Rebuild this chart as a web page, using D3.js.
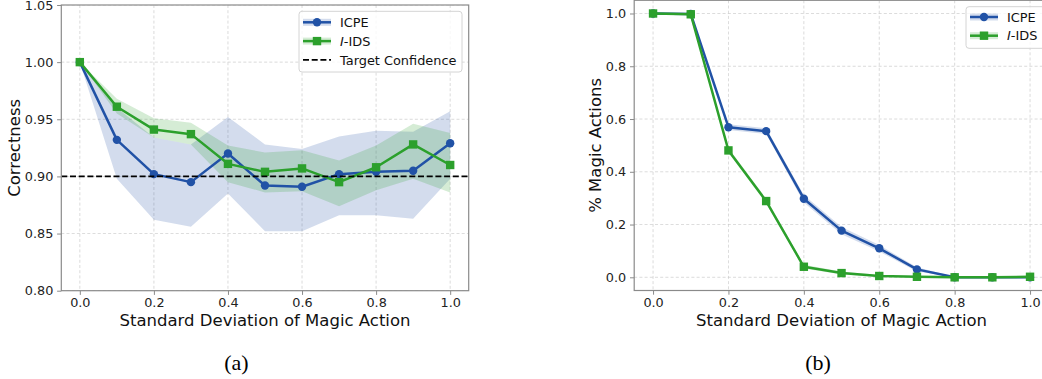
<!DOCTYPE html>
<html>
<head>
<meta charset="utf-8">
<script src="https://cdn.jsdelivr.net/npm/d3@7"></script>
<style>
  html, body { margin: 0; padding: 0; background: #fff; }
  svg { display: block; font-family: "DejaVu Sans", sans-serif; }
</style>
</head>
<body>
<svg id="fig" width="1042" height="379"></svg>
<script>
// Standard deviation of the magic action (shared x values)
const sigma = [0.0, 0.1, 0.2, 0.3, 0.4, 0.5, 0.6, 0.7, 0.8, 0.9, 1.0];

// (a) correctness: mean and shaded band per method
const icpeCorrect     = [1.000, 0.932, 0.902, 0.895, 0.920, 0.892, 0.891, 0.902, 0.904, 0.905, 0.929];
const icpeCorrectLo   = [1.000, 0.898, 0.862, 0.856, 0.885, 0.852, 0.852, 0.866, 0.866, 0.863, 0.898];
const icpeCorrectHi   = [1.000, 0.960, 0.934, 0.928, 0.952, 0.928, 0.924, 0.935, 0.940, 0.939, 0.957];
const iidsCorrect     = [1.000, 0.961, 0.941, 0.937, 0.911, 0.904, 0.907, 0.895, 0.908, 0.928, 0.910];
const iidsCorrectLo   = [1.000, 0.955, 0.934, 0.928, 0.895, 0.886, 0.887, 0.874, 0.888, 0.898, 0.886];
const iidsCorrectHi   = [1.000, 0.968, 0.951, 0.947, 0.927, 0.921, 0.923, 0.914, 0.927, 0.946, 0.938];
const targetConfidence = 0.9;

// (b) fraction of magic actions: mean and shaded band per method
const icpeMagic   = [1.000, 0.998, 0.569, 0.554, 0.298, 0.177, 0.110, 0.030, 0.000, 0.000, 0.000];
const icpeMagicLo = [1.000, 0.995, 0.558, 0.543, 0.284, 0.163, 0.098, 0.022, 0.000, 0.000, 0.000];
const icpeMagicHi = [1.000, 1.000, 0.580, 0.565, 0.312, 0.191, 0.122, 0.038, 0.002, 0.002, 0.002];
const iidsMagic   = [1.000, 0.997, 0.481, 0.289, 0.040, 0.016, 0.005, 0.002, 0.000, 0.000, 0.002];
const iidsMagicLo = [1.000, 0.994, 0.472, 0.280, 0.033, 0.011, 0.002, 0.000, 0.000, 0.000, 0.000];
const iidsMagicHi = [1.000, 1.000, 0.490, 0.298, 0.048, 0.022, 0.009, 0.005, 0.002, 0.002, 0.005];

// Tick labels
const xTicks = [0.0, 0.2, 0.4, 0.6, 0.8, 1.0];
const yTicksA = [0.80, 0.85, 0.90, 0.95, 1.00, 1.05];
const yTicksB = [0.0, 0.2, 0.4, 0.6, 0.8, 1.0];

const BLUE = "#2152a6";
const GREEN = "#2ca02c";
const SPINE = "#8a8a8a";
const TICK_FONT = "12.8px";
const LABEL_FONT = "16.5px";
const LEGEND_FONT = "12.9px";

const svg = d3.select("#fig");
svg.append("rect").attr("width", 1042).attr("height", 379).attr("fill", "#fff");

function panel(cfg) {
  const x = d3.scaleLinear().domain([-0.05, 1.05]).range([cfg.left, cfg.right]);
  const y = d3.scaleLinear().domain(cfg.yDomain).range([cfg.bottom, cfg.top]);
  const g = svg.append("g");

  const clipId = "clip-" + cfg.id;
  svg.append("clipPath").attr("id", clipId)
    .append("rect").attr("x", cfg.left).attr("y", cfg.top)
    .attr("width", cfg.right - cfg.left).attr("height", cfg.bottom - cfg.top);

  const plot = g.append("g").attr("clip-path", `url(#${clipId})`);

  // grid
  plot.append("g").selectAll("line").data(xTicks).join("line")
    .attr("x1", d => x(d)).attr("x2", d => x(d))
    .attr("y1", cfg.top).attr("y2", cfg.bottom)
    .attr("stroke", "#c8c8c8").attr("stroke-width", 0.8)
    .attr("stroke-dasharray", "3,2.2").attr("opacity", 0.8);
  plot.append("g").selectAll("line").data(cfg.yTicks).join("line")
    .attr("x1", cfg.left).attr("x2", cfg.right)
    .attr("y1", d => y(d)).attr("y2", d => y(d))
    .attr("stroke", "#c8c8c8").attr("stroke-width", 0.8)
    .attr("stroke-dasharray", "3,2.2").attr("opacity", 0.8);

  const area = d3.area().x((d, i) => x(sigma[i])).y0(d => y(d[0])).y1(d => y(d[1]));
  const line = d3.line().x((d, i) => x(sigma[i])).y(d => y(d));

  cfg.series.forEach(s => {
    plot.append("path")
      .datum(s.lo.map((v, i) => [v, s.hi[i]]))
      .attr("d", area).attr("fill", s.color).attr("fill-opacity", 0.2);
  });

  cfg.series.forEach(s => {
    plot.append("path").datum(s.mean).attr("d", line)
      .attr("fill", "none").attr("stroke", s.color).attr("stroke-width", 2.5)
      .attr("stroke-linejoin", "round");
    const m = plot.append("g");
    if (s.marker === "circle") {
      m.selectAll("circle").data(s.mean).join("circle")
        .attr("cx", (d, i) => x(sigma[i])).attr("cy", d => y(d)).attr("r", 4.2)
        .attr("fill", s.color);
    } else {
      m.selectAll("rect").data(s.mean).join("rect")
        .attr("x", (d, i) => x(sigma[i]) - 4.2).attr("y", d => y(d) - 4.2)
        .attr("width", 8.4).attr("height", 8.4).attr("fill", s.color);
    }
  });

  if (cfg.target !== undefined) {
    plot.append("line")
      .attr("x1", cfg.left).attr("x2", cfg.right)
      .attr("y1", y(cfg.target)).attr("y2", y(cfg.target))
      .attr("stroke", "#000").attr("stroke-width", 1.6)
      .attr("stroke-dasharray", "6,2.7");
  }

  // spines
  g.append("rect").attr("x", cfg.left).attr("y", cfg.top)
    .attr("width", cfg.right - cfg.left).attr("height", cfg.bottom - cfg.top)
    .attr("fill", "none").attr("stroke", SPINE).attr("stroke-width", 1.2);

  // x axis
  const xAxis = d3.axisBottom(x).tickValues(xTicks).tickFormat(d3.format(".1f"))
    .tickSize(4.2).tickPadding(3.5);
  const xg = g.append("g").attr("transform", `translate(0,${cfg.bottom})`).call(xAxis);
  // y axis
  const yAxis = d3.axisLeft(y).tickValues(cfg.yTicks).tickFormat(d3.format(cfg.yFmt))
    .tickSize(4.2).tickPadding(3.8);
  const yg = g.append("g").attr("transform", `translate(${cfg.left},0)`).call(yAxis);
  [xg, yg].forEach(a => {
    a.select(".domain").remove();
    a.attr("font-family", null).attr("font-size", null);
    a.selectAll(".tick line").attr("stroke", SPINE).attr("stroke-width", 1);
    a.selectAll(".tick text").attr("fill", "#222")
      .style("font-family", "'DejaVu Sans', sans-serif").style("font-size", TICK_FONT);
  });

  // axis labels
  g.append("text").attr("x", (cfg.left + cfg.right) / 2).attr("y", 326)
    .attr("text-anchor", "middle").attr("fill", "#111").style("font-size", LABEL_FONT)
    .text("Standard Deviation of Magic Action");
  g.append("text")
    .attr("transform", `translate(${cfg.ylabelX},${(cfg.top + cfg.bottom) / 2}) rotate(-90)`)
    .attr("text-anchor", "middle").attr("dy", "0.35em").attr("fill", "#111")
    .style("font-size", LABEL_FONT).text(cfg.ylabel);

  // sub-caption
  g.append("text").attr("x", cfg.captionX).attr("y", 370)
    .attr("text-anchor", "middle").attr("fill", "#000")
    .style("font-family", "'Liberation Serif', 'Times New Roman', serif").style("font-size", "22px")
    .text(cfg.caption);

  // legend
  const L = cfg.legend;
  const lg = g.append("g");
  lg.append("rect").attr("x", L.x).attr("y", L.y).attr("width", L.w).attr("height", L.h)
    .attr("rx", 3).attr("fill", "#fff").attr("fill-opacity", 0.8)
    .attr("stroke", "#d4d4d4").attr("stroke-width", 1);
  L.items.forEach((it, k) => {
    const yy = L.y0 + k * L.dy;
    const x0 = L.x + 4, x1 = x0 + 28, xm = (x0 + x1) / 2;
    if (it.dash) {
      lg.append("line").attr("x1", x0).attr("x2", x1).attr("y1", yy).attr("y2", yy)
        .attr("stroke", "#000").attr("stroke-width", 1.6).attr("stroke-dasharray", "6,2.7");
    } else {
      lg.append("rect").attr("x", x0).attr("y", yy - 3.5).attr("width", 28).attr("height", 7)
        .attr("fill", it.color).attr("fill-opacity", 0.2);
      lg.append("line").attr("x1", x0).attr("x2", x1).attr("y1", yy).attr("y2", yy)
        .attr("stroke", it.color).attr("stroke-width", 2.5);
      if (it.marker === "circle") {
        lg.append("circle").attr("cx", xm).attr("cy", yy).attr("r", 4.2).attr("fill", it.color);
      } else {
        lg.append("rect").attr("x", xm - 4.2).attr("y", yy - 4.2).attr("width", 8.4).attr("height", 8.4)
          .attr("fill", it.color);
      }
    }
    const t = lg.append("text").attr("x", L.x + 41).attr("y", yy).attr("dy", "0.36em")
      .attr("fill", "#111").style("font-size", LEGEND_FONT);
    if (it.italic) {
      t.append("tspan").style("font-style", "italic").text(it.italic);
      t.append("tspan").text(it.label);
    } else {
      t.text(it.label);
    }
  });
}

const legendItems = [
  { label: "ICPE", color: BLUE, marker: "circle" },
  { italic: "I", label: "-IDS", color: GREEN, marker: "square" }
];

panel({
  id: "a", left: 61.3, right: 468.7, top: 5, bottom: 290.7,
  yDomain: [0.8, 1.05], yTicks: yTicksA, yFmt: ".2f",
  ylabel: "Correctness", ylabelX: 14, caption: "(a)", captionX: 236.5,
  target: targetConfidence,
  series: [
    { mean: icpeCorrect, lo: icpeCorrectLo, hi: icpeCorrectHi, color: BLUE, marker: "circle" },
    { mean: iidsCorrect, lo: iidsCorrectLo, hi: iidsCorrectHi, color: GREEN, marker: "square" }
  ],
  legend: { x: 299, y: 11.3, w: 163, h: 60.7, y0: 22.3, dy: 18.8,
    items: legendItems.concat([{ label: "Target Confidence", dash: true }]) }
});

panel({
  id: "b", left: 634.2, right: 1048.9, top: 0.3, bottom: 290.5,
  yDomain: [-0.05, 1.05], yTicks: yTicksB, yFmt: ".1f",
  ylabel: "% Magic Actions", ylabelX: 595, caption: "(b)", captionX: 818,
  series: [
    { mean: icpeMagic, lo: icpeMagicLo, hi: icpeMagicHi, color: BLUE, marker: "circle" },
    { mean: iidsMagic, lo: iidsMagicLo, hi: iidsMagicHi, color: GREEN, marker: "square" }
  ],
  legend: { x: 966, y: 6.7, w: 90, h: 41.6, y0: 17, dy: 18.7, items: legendItems }
});
</script>
</body>
</html>
